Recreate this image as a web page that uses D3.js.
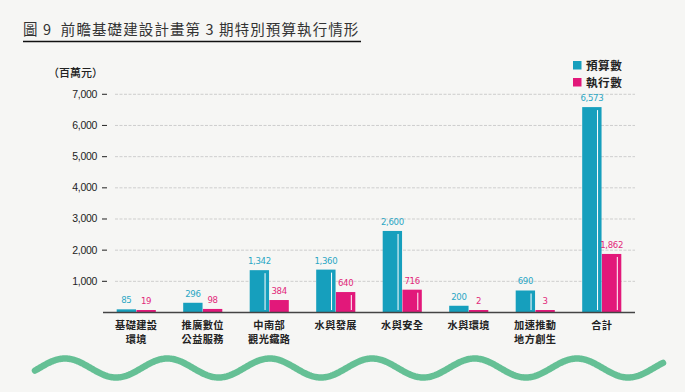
<!DOCTYPE html>
<html><head><meta charset="utf-8">
<script src="https://cdn.jsdelivr.net/npm/d3@7"></script>
<style>
html,body{margin:0;padding:0;background:#f6f6f4;}
svg{display:block;}
</style></head>
<body>
<svg id="chart" width="685" height="392"></svg>
<script>
const categories = [["基礎建設","環境"],["推廣數位","公益服務"],["中南部","觀光鐵路"],["水與發展"],["水與安全"],["水與環境"],["加速推動","地方創生"],["合計"]];
const seriesNames = ["預算數","執行數"];
const budget = [85,296,1342,1360,2600,200,690,6573];
const executed = [19,98,384,640,716,2,3,1862];
const yTicks = [1000,2000,3000,4000,5000,6000,7000];
const title = "圖 9  前瞻基礎建設計畫第 3 期特別預算執行情形";
const unitLabel = "（百萬元）";

const colors = ["#169fbd","#e2187a"];
const labelColors = ["#2aa6c4","#e2287a"];
const cjk = "'Noto Sans CJK TC','Noto Sans CJK SC',sans-serif";
const num = "'Liberation Sans Narrow','DejaVu Sans Condensed',sans-serif";

const svg = d3.select("#chart");
svg.append("rect").attr("width",685).attr("height",392).attr("fill","#f6f6f4");

// title
svg.append("text").attr("x",23).attr("y",35).attr("font-family",cjk)
  .attr("font-size",14.5).attr("fill","#333").attr("letter-spacing",1.1)
  .attr("xml:space","preserve").text(title);
svg.append("line").attr("x1",23).attr("x2",361).attr("y1",41.5).attr("y2",41.5)
  .attr("stroke","#111").attr("stroke-width",1.3);

const left = 103, right = 635;
const y = d3.scaleLinear().domain([0,7000]).range([312, 93.8]);
const x0 = d3.scaleBand().domain(d3.range(categories.length)).range([left,right])
  .paddingInner(0.4).paddingOuter(0.2);
const x1 = d3.scaleBand().domain([0,1]).range([0,x0.bandwidth()]).padding(0.02);

// gridlines
svg.append("g").selectAll("line").data(yTicks).join("line")
  .attr("x1",115).attr("x2",right).attr("y1",d=>y(d)+0.5).attr("y2",d=>y(d)+0.5)
  .attr("stroke","#c4c4c4").attr("stroke-width",0.8).attr("stroke-dasharray","3,1.5");

// y axis
const yAxis = svg.append("g").attr("transform","translate(107,0)")
  .call(d3.axisLeft(y).tickValues(yTicks).tickFormat(d3.format(",")).tickSize(5).tickPadding(5));
yAxis.select(".domain").remove();
yAxis.selectAll(".tick line").attr("stroke","#333").attr("stroke-width",1.1);
yAxis.selectAll(".tick text").attr("font-family","'Liberation Sans',Arial,sans-serif")
  .attr("font-size",10.5).attr("fill","#222").attr("letter-spacing",-0.3);

svg.append("text").attr("x",48).attr("y",77).attr("font-family",cjk).attr("font-size",11)
  .attr("font-weight",500).attr("fill","#222").text(unitLabel);

// bars
const series = [budget, executed];
const groups = svg.append("g").selectAll("g").data(categories).join("g")
  .attr("transform",(d,i)=>`translate(${x0(i)},0)`);
series.forEach((vals, s) => {
  groups.append("rect")
    .attr("x",x1(s)).attr("width",x1.bandwidth())
    .attr("y",(d,i)=>Math.min(y(vals[i]), y(0)-2))
    .attr("height",(d,i)=>Math.max(y(0)-y(vals[i]),2))
    .attr("fill",colors[s]);
  groups.filter((d,i)=>y(0)-y(vals[i])>12).append("rect")
    .attr("x",(d)=>x1(s)+x1.bandwidth()-4.5).attr("width",1)
    .attr("y",function(){ const i=categories.indexOf(d3.select(this.parentNode).datum()); return y(vals[i])+3;})
    .attr("height",function(){ const i=categories.indexOf(d3.select(this.parentNode).datum()); return y(0)-y(vals[i])-5;})
    .attr("fill","#fff");
  groups.append("text")
    .attr("x",x1(s)+x1.bandwidth()/2)
    .attr("y",(d,i)=>Math.min(y(vals[i]), y(0)-2)-6)
    .attr("text-anchor","middle").attr("font-family",num).attr("font-size",9.5)
    .attr("letter-spacing",-0.3).attr("fill",labelColors[s])
    .text((d,i)=>d3.format(",")(vals[i]));
});

// baseline
svg.append("line").attr("x1",left).attr("x2",right).attr("y1",y(0)+0.5).attr("y2",y(0)+0.5)
  .attr("stroke","#444").attr("stroke-width",1.4);

// category labels
groups.each(function(d){
  const g = d3.select(this);
  d.forEach((line,k)=>{
    g.append("text").attr("x",x0.bandwidth()/2).attr("y",328.5+k*14.9)
      .attr("text-anchor","middle").attr("font-family",cjk).attr("font-size",10.2)
      .attr("letter-spacing",0.4)
      .attr("font-weight",700).attr("fill","#222").text(line);
  });
});

// legend
const lg = svg.append("g");
seriesNames.forEach((n,s)=>{
  lg.append("rect").attr("x",573).attr("y",61+s*17).attr("width",8.5).attr("height",8.5).attr("fill",colors[s]);
  lg.append("text").attr("x",586).attr("y",69.5+s*17).attr("font-family",cjk).attr("font-size",11.6)
    .attr("letter-spacing",0.5)
    .attr("font-weight",700).attr("fill","#222").text(n);
});

// decorative wave
const wx = d3.range(35, 663.5, 1);
const wave = d3.line().x(d=>d).y(d=>368 - 9.5*Math.cos(2*Math.PI*(d-65)/102.4));
svg.append("path").attr("d",wave(wx)).attr("fill","none").attr("stroke","#65c095")
  .attr("stroke-width",6.5).attr("stroke-linecap","round");
</script>
</body></html>
